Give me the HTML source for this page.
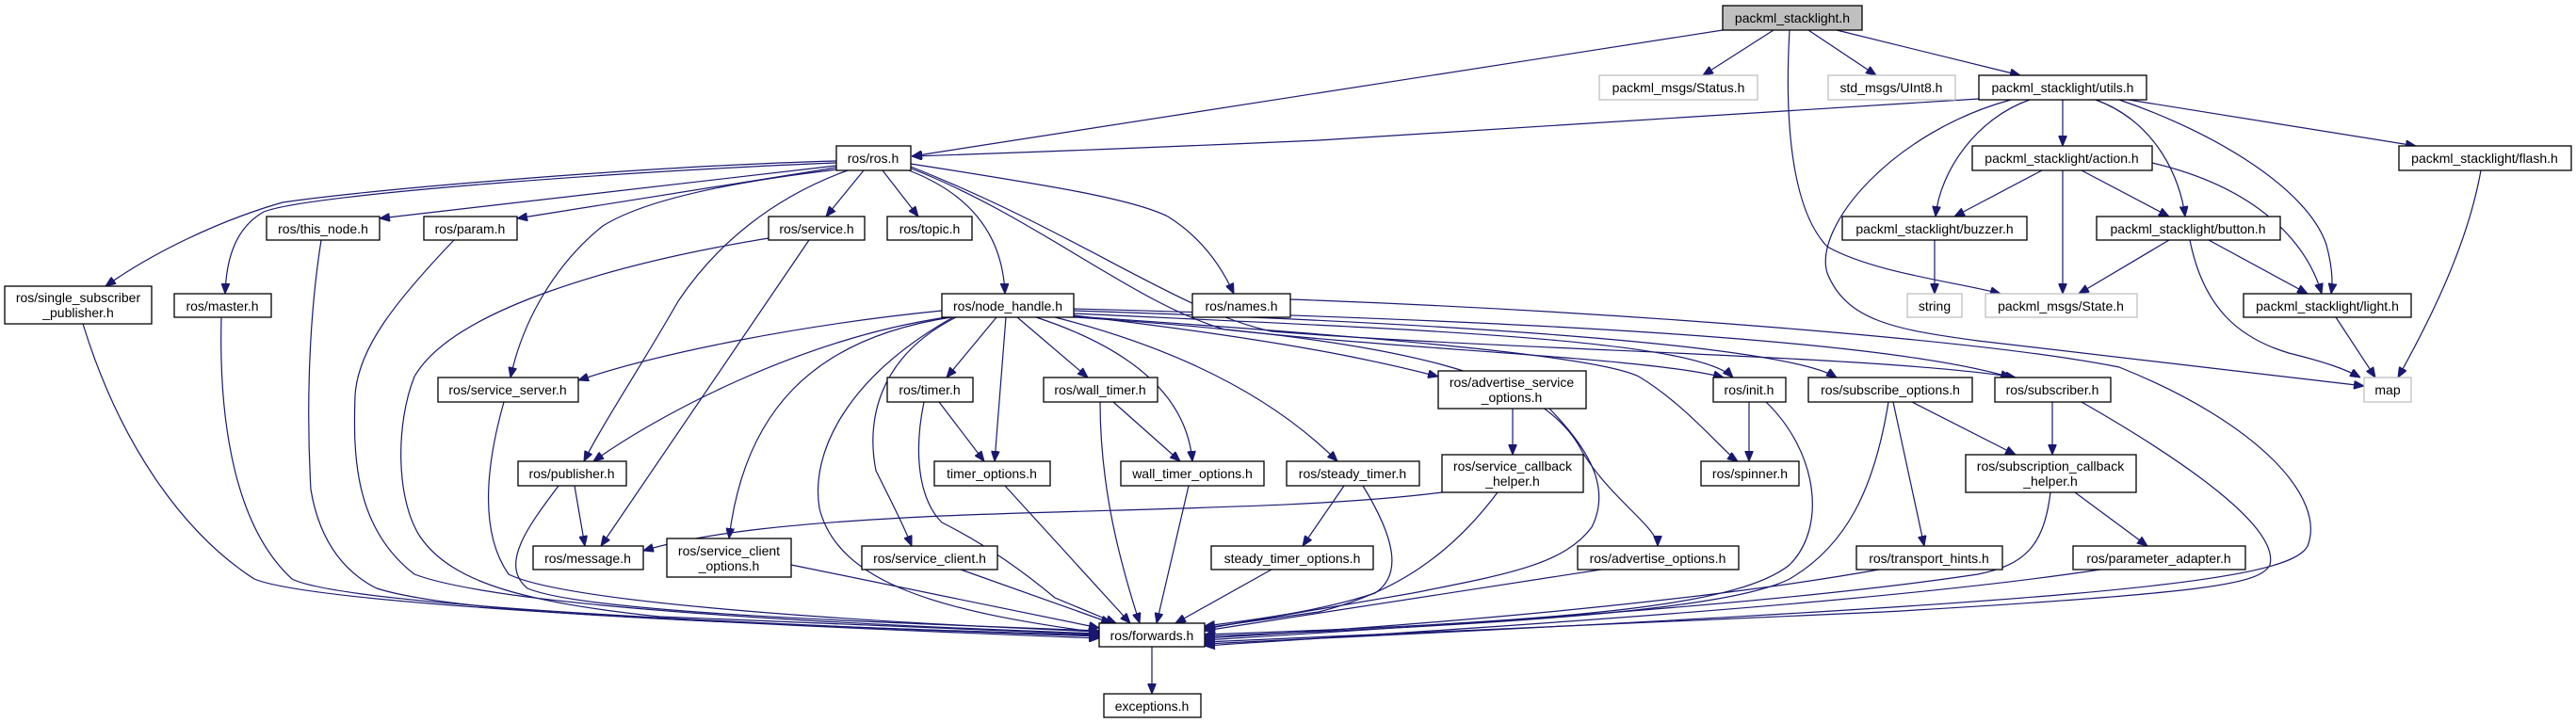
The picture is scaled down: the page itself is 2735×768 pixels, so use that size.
<!DOCTYPE html>
<html><head><meta charset="utf-8"><style>
html,body{margin:0;padding:0;background:#fff}
svg{display:block}
text{font-family:"Liberation Sans","DejaVu Sans",sans-serif;font-size:14px;fill:#000}
.b{fill:#fff;stroke:#000;stroke-width:1.3}
.g{fill:#fff;stroke:#bfbfbf;stroke-width:1.3}
.r{fill:#bfbfbf;stroke:#000;stroke-width:1.3}
path.e{fill:none;stroke:#191970;stroke-width:1.2;marker-end:url(#a)}
</style></head><body>
<svg width="2735" height="768" viewBox="0 0 2735 768" xmlns="http://www.w3.org/2000/svg">
<defs><marker id="a" markerUnits="userSpaceOnUse" markerWidth="11" markerHeight="9" viewBox="0 0 11 9" refX="11" refY="4.5" orient="auto"><path d="M0,0 L11,4.5 L0,9 z" fill="#191970" stroke="#191970"/></marker></defs>
<g>
<path class="e" d="M1829,32 L968,166"/>
<path class="e" d="M1883,32 L1808,80"/>
<path class="e" d="M1920,32 L1992,80"/>
<path class="e" d="M1950,32 L2145,80"/>
<path class="e" d="M1900,32 C1895,120 1900,220 1940,262 C1990,290 2080,300 2124,312"/>
<path class="e" d="M2101,105 L1400,149 Q1150,160 968,166"/>
<path class="e" d="M2135,106 C2010,140 1925,240 1940,290 C1960,340 2010,350 2100,362 L2510,410"/>
<path class="e" d="M2190,106 L2190,155"/>
<path class="e" d="M2155,106 C2100,125 2060,180 2055,230"/>
<path class="e" d="M2225,106 C2290,130 2315,190 2320,230"/>
<path class="e" d="M2250,106 C2350,140 2450,200 2470,260 C2478,290 2476,305 2475,312"/>
<path class="e" d="M2260,106 L2565,155"/>
<path class="e" d="M2168,181 L2075,230"/>
<path class="e" d="M2190,181 L2190,312"/>
<path class="e" d="M2210,181 L2303,230"/>
<path class="e" d="M2285,173 C2400,200 2450,260 2465,312"/>
<path class="e" d="M2303,255 L2207,312"/>
<path class="e" d="M2345,255 L2450,312"/>
<path class="e" d="M2325,255 C2340,330 2380,360 2430,375 C2470,385 2490,392 2506,401"/>
<path class="e" d="M2480,337 L2522,401"/>
<path class="e" d="M2634,181 C2620,260 2580,340 2546,401"/>
<path class="e" d="M2054,255 L2054,312"/>

<path class="e" d="M888,171 C700,176 400,200 300,215 C230,235 160,270 112,304"/>
<path class="e" d="M888,173 C700,180 330,205 280,225 C245,245 240,285 239,312"/>
<path class="e" d="M888,176 L403,232"/>
<path class="e" d="M888,178 L549,232"/>
<path class="e" d="M917,181 L877,230"/>
<path class="e" d="M937,181 L975,230"/>
<path class="e" d="M965,181 C1040,210 1065,260 1067,312"/>
<path class="e" d="M967,174 C1100,195 1200,210 1240,230 C1280,255 1300,290 1310,312"/>
<path class="e" d="M890,180 C760,195 680,215 640,240 C590,280 555,340 542,401"/>
<path class="e" d="M900,181 C820,210 760,260 720,320 C680,390 640,450 620,490"/>
<path class="e" d="M965,178 C1100,230 1200,320 1300,350 C1500,372 1750,380 1830,401"/>
<path class="e" d="M967,177 C1150,250 1250,330 1350,352 C1600,372 2000,378 2140,401"/>

<path class="e" d="M1000,330 C850,345 700,375 614,404"/>
<path class="e" d="M1005,337 C850,360 700,440 630,490"/>
<path class="e" d="M1010,337 C860,360 790,440 774,572"/>
<path class="e" d="M1015,337 C930,380 920,450 930,500 C950,540 960,560 968,580"/>
<path class="e" d="M1012,337 C900,400 860,480 870,540 C890,620 1000,650 1167,672"/>
<path class="e" d="M1058,337 L1005,401"/>
<path class="e" d="M1068,337 L1056,490"/>
<path class="e" d="M1080,337 L1155,401"/>
<path class="e" d="M1100,337 C1200,370 1260,420 1266,490"/>
<path class="e" d="M1120,337 C1250,370 1350,420 1420,490"/>
<path class="e" d="M1140,335 C1350,360 1450,380 1527,400"/>
<path class="e" d="M1140,337 C1500,360 1640,400 1680,480 C1710,530 1760,560 1760,580"/>
<path class="e" d="M1140,333 C1500,350 1800,360 1840,401"/>
<path class="e" d="M1140,336 C1500,360 1700,380 1740,400 C1790,430 1830,480 1845,490"/>
<path class="e" d="M1140,330 C1600,345 1900,370 1950,401"/>
<path class="e" d="M1140,328 C1600,340 2000,360 2135,401"/>

<path class="e" d="M859,255 L638,580"/>
<path class="e" d="M816,253 C650,280 480,330 440,400 C420,450 420,530 446,570 C480,620 560,640 700,655 L1167,674"/>
<path class="e" d="M88,344 C130,480 200,570 270,615 C330,640 700,660 1167,678"/>
<path class="e" d="M235,337 C232,450 250,560 310,615 C360,640 700,660 1167,676"/>
<path class="e" d="M341,255 C326,350 326,450 330,520 C340,580 370,610 400,625 C480,650 700,660 1167,675"/>
<path class="e" d="M482,255 C420,320 380,370 377,420 C375,480 375,560 440,610 C520,640 800,660 1167,673"/>
<path class="e" d="M535,427 C520,480 505,560 540,610 C600,640 900,660 1167,671"/>
<path class="e" d="M593,516 C560,560 530,600 560,625 C620,650 900,660 1167,670"/>
<path class="e" d="M610,516 L621,580"/>
<path class="e" d="M840,600 L1167,667"/>
<path class="e" d="M1020,605 L1180,662"/>
<path class="e" d="M981,427 C970,480 975,530 1000,555 C1050,580 1090,610 1120,635 L1185,662"/>
<path class="e" d="M997,427 L1045,490"/>
<path class="e" d="M1168,427 C1168,520 1190,600 1210,662"/>
<path class="e" d="M1182,427 L1253,490"/>
<path class="e" d="M1067,516 L1200,662"/>
<path class="e" d="M1262,516 L1228,662"/>
<path class="e" d="M1427,516 L1383,580"/>
<path class="e" d="M1447,516 C1480,570 1490,610 1460,630 C1400,650 1320,660 1279,665"/>
<path class="e" d="M1350,605 L1248,662"/>
<path class="e" d="M1606,434 L1606,483"/>
<path class="e" d="M1645,434 C1690,480 1710,520 1690,560 C1660,600 1600,610 1500,630 L1279,668"/>
<path class="e" d="M1531,523 C1400,540 1200,540 1000,548 C850,555 750,565 683,585"/>
<path class="e" d="M1590,523 C1540,590 1480,630 1400,650 L1279,667"/>
<path class="e" d="M1700,605 L1279,670"/>
<path class="e" d="M1857,427 L1857,490"/>
<path class="e" d="M1875,427 C1930,480 1940,560 1900,600 C1850,640 1700,660 1279,674"/>
<path class="e" d="M2010,427 L2043,580"/>
<path class="e" d="M2030,427 L2140,483"/>
<path class="e" d="M2005,427 C1990,520 1960,580 1900,615 C1850,640 1700,660 1279,676"/>
<path class="e" d="M1995,605 C1800,640 1500,665 1279,678"/>
<path class="e" d="M2179,427 L2179,483"/>
<path class="e" d="M2210,427 C2320,490 2420,560 2410,600 C2400,620 2350,630 2000,650 L1279,682"/>
<path class="e" d="M1370,318 C1700,330 2100,360 2250,390 C2400,450 2470,530 2450,580 C2430,620 2200,640 1279,684"/>
<path class="e" d="M2203,523 L2280,580"/>
<path class="e" d="M2177,523 C2170,580 2150,600 2100,610 C1900,640 1600,660 1279,680"/>
<path class="e" d="M2230,605 C2000,640 1600,665 1279,686"/>
<path class="e" d="M1223,687 L1223,737"/>
</g>
<g text-anchor="middle">
<rect class="r" x="1829" y="6" width="148" height="26"/><text x="1903" y="24">packml_stacklight.h</text>
<rect class="g" x="1698" y="80" width="168" height="26"/><text x="1782" y="98">packml_msgs/Status.h</text>
<rect class="g" x="1941" y="80" width="135" height="26"/><text x="2008" y="98">std_msgs/UInt8.h</text>
<rect class="b" x="2101" y="80" width="178" height="26"/><text x="2190" y="98">packml_stacklight/utils.h</text>
<rect class="b" x="888" y="155" width="79" height="26"/><text x="927" y="173">ros/ros.h</text>
<rect class="b" x="2094" y="155" width="191" height="26"/><text x="2189" y="173">packml_stacklight/action.h</text>
<rect class="b" x="2547" y="155" width="183" height="26"/><text x="2638" y="173">packml_stacklight/flash.h</text>
<rect class="b" x="283" y="230" width="120" height="25"/><text x="343" y="248">ros/this_node.h</text>
<rect class="b" x="450" y="230" width="99" height="25"/><text x="499" y="248">ros/param.h</text>
<rect class="b" x="816" y="230" width="102" height="25"/><text x="867" y="248">ros/service.h</text>
<rect class="b" x="942" y="230" width="90" height="25"/><text x="987" y="248">ros/topic.h</text>
<rect class="b" x="1956" y="230" width="196" height="25"/><text x="2054" y="248">packml_stacklight/buzzer.h</text>
<rect class="b" x="2226" y="230" width="195" height="25"/><text x="2323" y="248">packml_stacklight/button.h</text>
<rect class="b" x="5" y="304" width="156" height="40"/><text x="83" y="321">ros/single_subscriber</text><text x="83" y="337">_publisher.h</text>
<rect class="b" x="185" y="312" width="103" height="25"/><text x="236" y="330">ros/master.h</text>
<rect class="b" x="1000" y="312" width="140" height="25"/><text x="1070" y="330">ros/node_handle.h</text>
<rect class="b" x="1266" y="312" width="104" height="25"/><text x="1318" y="330">ros/names.h</text>
<rect class="g" x="2025" y="312" width="58" height="25"/><text x="2054" y="330">string</text>
<rect class="g" x="2108" y="312" width="161" height="25"/><text x="2188" y="330">packml_msgs/State.h</text>
<rect class="b" x="2382" y="312" width="178" height="25"/><text x="2471" y="330">packml_stacklight/light.h</text>
<rect class="b" x="465" y="401" width="149" height="26"/><text x="539" y="419">ros/service_server.h</text>
<rect class="b" x="942" y="401" width="91" height="26"/><text x="987" y="419">ros/timer.h</text>
<rect class="b" x="1108" y="401" width="121" height="26"/><text x="1168" y="419">ros/wall_timer.h</text>
<rect class="b" x="1527" y="394" width="157" height="40"/><text x="1605" y="411">ros/advertise_service</text><text x="1605" y="427">_options.h</text>
<rect class="b" x="1819" y="401" width="77" height="26"/><text x="1857" y="419">ros/init.h</text>
<rect class="b" x="1920" y="401" width="174" height="26"/><text x="2007" y="419">ros/subscribe_options.h</text>
<rect class="b" x="2118" y="401" width="123" height="26"/><text x="2179" y="419">ros/subscriber.h</text>
<rect class="g" x="2510" y="401" width="50" height="26"/><text x="2535" y="419">map</text>
<rect class="b" x="550" y="490" width="115" height="26"/><text x="607" y="508">ros/publisher.h</text>
<rect class="b" x="992" y="490" width="123" height="26"/><text x="1053" y="508">timer_options.h</text>
<rect class="b" x="1190" y="490" width="152" height="26"/><text x="1266" y="508">wall_timer_options.h</text>
<rect class="b" x="1366" y="490" width="141" height="26"/><text x="1436" y="508">ros/steady_timer.h</text>
<rect class="b" x="1531" y="483" width="150" height="40"/><text x="1606" y="500">ros/service_callback</text><text x="1606" y="516">_helper.h</text>
<rect class="b" x="1806" y="490" width="104" height="26"/><text x="1858" y="508">ros/spinner.h</text>
<rect class="b" x="2087" y="483" width="181" height="40"/><text x="2177" y="500">ros/subscription_callback</text><text x="2177" y="516">_helper.h</text>
<rect class="b" x="708" y="572" width="132" height="41"/><text x="774" y="590">ros/service_client</text><text x="774" y="606">_options.h</text>
<rect class="b" x="566" y="580" width="117" height="25"/><text x="624" y="598">ros/message.h</text>
<rect class="b" x="915" y="580" width="144" height="25"/><text x="987" y="598">ros/service_client.h</text>
<rect class="b" x="1286" y="580" width="172" height="25"/><text x="1372" y="598">steady_timer_options.h</text>
<rect class="b" x="1675" y="580" width="171" height="25"/><text x="1760" y="598">ros/advertise_options.h</text>
<rect class="b" x="1971" y="580" width="155" height="25"/><text x="2048" y="598">ros/transport_hints.h</text>
<rect class="b" x="2201" y="580" width="183" height="25"/><text x="2292" y="598">ros/parameter_adapter.h</text>
<rect class="b" x="1167" y="662" width="112" height="25"/><text x="1223" y="680">ros/forwards.h</text>
<rect class="b" x="1172" y="737" width="103" height="25"/><text x="1223" y="755">exceptions.h</text>
</g>
</svg>
</body></html>
